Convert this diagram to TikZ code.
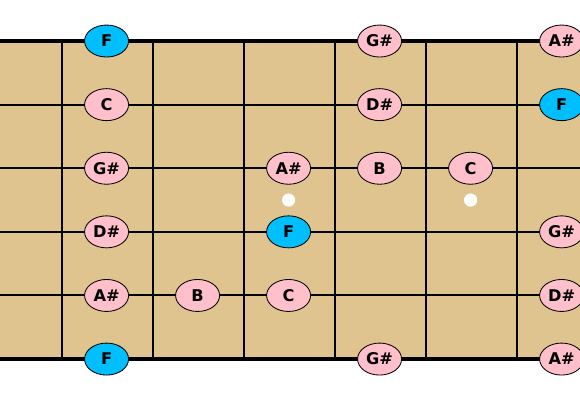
\documentclass[tikz,border=0pt]{standalone}
\usepackage{fontspec}
\setsansfont{DejaVu Sans}
\usepackage{tikz}
\usetikzlibrary{shapes.geometric}
\definecolor{board}{HTML}{E0C48F}
\definecolor{notepink}{HTML}{FFC0CB}
\definecolor{rootblue}{HTML}{00BFFF}
\tikzset{
  note/.style={
    ellipse, draw=black, fill=#1, line width=0.6pt,
    minimum width=1.1cm, minimum height=0.8cm,
    font=\sffamily\bfseries\fontsize{11.5}{13}\selectfont,
    inner sep=0pt
  },
  note/.default=notepink,
  fretline/.style={line width=1.4pt},
  stringline/.style={line width=1.4pt},
  edgestring/.style={line width=2.6pt},
  inlay/.style={circle, fill=white, minimum size=0.33cm, inner sep=0pt},
}

\begin{document}
\begin{tikzpicture}[x=2.275cm, y=-1.59cm]
\useasboundingbox (-0.681,-0.645) rectangle (5.692,5.645);
\fill[board] (-0.681,0) rectangle (5.692,5);
% frets
\foreach \fr in {0,...,5}
  \draw[fretline] (\fr,0) -- (\fr,5);
% strings
\foreach \st in {1,...,4}
  \draw[stringline] (-0.681,\st) -- (5.692,\st);
\draw[edgestring] (-0.681,0) -- (5.692,0);
\draw[edgestring] (-0.681,5) -- (5.692,5);
% inlays
\node[inlay] (dot-3) at (2.49,2.5) {};
\node[inlay] (dot-5) at (4.49,2.5) {};
% notes
\foreach \st/\fr/\lbl/\clr in {
    0/0/F/rootblue, 0/3/G\#/notepink, 0/5/A\#/notepink,
    1/0/C/notepink, 1/3/D\#/notepink, 1/5/F/rootblue,
    2/0/G\#/notepink, 2/2/A\#/notepink, 2/3/B/notepink, 2/4/C/notepink,
    3/0/D\#/notepink, 3/2/F/rootblue, 3/5/G\#/notepink,
    4/0/A\#/notepink, 4/1/B/notepink, 4/2/C/notepink, 4/5/D\#/notepink,
    5/0/F/rootblue, 5/3/G\#/notepink, 5/5/A\#/notepink}
  \node[note=\clr] (note-\st-\fr) at (\fr+0.49,\st) {\lbl};
\end{tikzpicture}
\end{document}
